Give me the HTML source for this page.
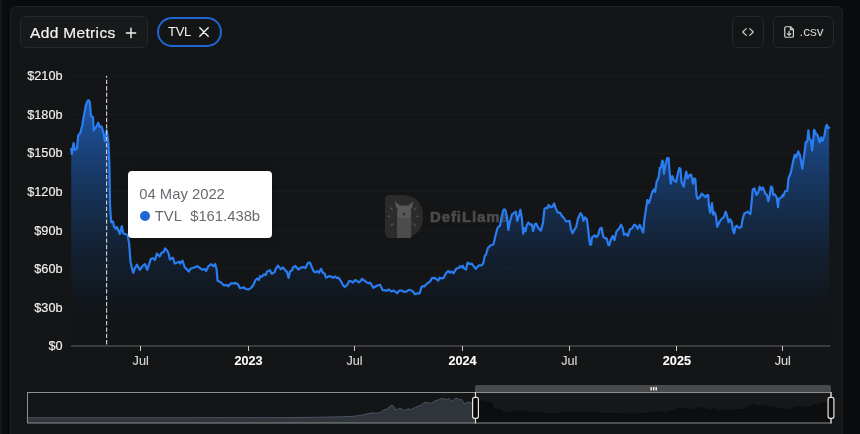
<!DOCTYPE html>
<html lang="en"><head><meta charset="utf-8"><title>TVL Chart</title>
<style>
*{box-sizing:border-box;margin:0;padding:0}
html,body{width:860px;height:434px;overflow:hidden;background:#090b0c;font-family:"Liberation Sans",Arial,sans-serif;}
#wrap{position:relative;width:860px;height:434px;overflow:hidden;background:#090b0c}
#strip{position:absolute;left:0;top:0;width:2px;height:434px;background:#141618}
#panel{position:absolute;left:10px;top:6px;width:833px;height:440px;background:#131516;border:1px solid #1e2022;border-radius:6px}
.btn{position:absolute;top:16px;height:32px;border:1px solid #26282b;border-radius:6px;color:#e8e8e8;display:flex;align-items:center}
#add{left:20px;width:128px;background:#17191b;font-size:15.5px;letter-spacing:.34px;padding-left:9px;padding-top:2px;color:#f4f4f4;-webkit-text-stroke:.2px #f4f4f4}
#add svg{position:absolute;left:104.3px;top:10px}
#tvl{position:absolute;left:157px;top:17px;width:65px;height:30px;border:2px solid #1f67d2;border-radius:15px;color:#f2f2f2;font-size:13px;line-height:26px;padding-left:9px;letter-spacing:-.3px}
#tvl svg{position:absolute;left:39.5px;top:8px}
#embed{left:732px;width:32px}
#csv{left:773px;width:61px;font-size:13.6px;color:#d4d4d4}
#csv span{position:absolute;left:25.4px;top:7.4px}
#chart{position:absolute;left:0;top:0;will-change:transform}
.btn,#tvl,#tip{will-change:transform}
#tip{position:absolute;left:127.6px;top:170.8px;width:144.3px;height:67.4px;background:#fff;border-radius:4px;color:#6a6b71;font-size:14.8px;box-shadow:1px 2px 10px rgba(0,0,0,.2)}
#tip .d{position:absolute;left:11.3px;top:14.6px;white-space:nowrap}
#tip .v{position:absolute;left:26.8px;top:36.8px;white-space:nowrap}
#tip i{position:absolute;left:11.6px;top:39.7px;width:10.6px;height:10.6px;border-radius:50%;background:#1f67d2}
</style></head><body>
<div id="wrap">
<div id="strip"></div>
<div id="panel"></div>
<svg id="chart" width="860" height="434" viewBox="0 0 860 434" font-family="Liberation Sans, Arial, sans-serif" font-size="12.7">
<defs>
<linearGradient id="ag" x1="0" y1="100" x2="0" y2="346" gradientUnits="userSpaceOnUse">
<stop offset="0" stop-color="#2577ea" stop-opacity=".7"/><stop offset=".25" stop-color="#1f64c5" stop-opacity=".525"/><stop offset=".5" stop-color="#184f9a" stop-opacity=".35"/><stop offset=".75" stop-color="#103466" stop-opacity=".175"/><stop offset="1" stop-color="#000000" stop-opacity="0"/>
</linearGradient>
<pattern id="hatch" width="3" height="3" patternUnits="userSpaceOnUse"><rect width="3" height="3" fill="#151719"/><rect width="1" height="1" fill="#18191b"/></pattern>
</defs>
<g stroke="#181a1c" stroke-width="1" shape-rendering="crispEdges"><line x1="71" x2="830" y1="76.0" y2="76.0"/><line x1="71" x2="830" y1="114.6" y2="114.6"/><line x1="71" x2="830" y1="153.1" y2="153.1"/><line x1="71" x2="830" y1="191.7" y2="191.7"/><line x1="71" x2="830" y1="230.3" y2="230.3"/><line x1="71" x2="830" y1="268.9" y2="268.9"/><line x1="71" x2="830" y1="307.4" y2="307.4"/></g>
<g id="wm" transform="translate(385,195)">
<path d="M5,0 H17 C31,0 38,9 38,21.5 C38,34 31,43 17,43 H5 C2,43 0,41 0,38 V5 C0,2 2,0 5,0 Z" fill="#2b2b2c"/>
<path d="M12,43 V17 H26.2 V43 Z" fill="#4c4c4d"/>
<path d="M12.4,12.2 Q12.4,10.4 14.2,10.4 H24.2 Q26,10.4 26,12.2 V20 Q26,23.4 19.2,23.4 Q12.4,23.4 12.4,20 Z" fill="#58585a"/>
<path d="M9.8,6 L14.8,10.6 L11.6,13.4 Z M28.6,6 L23.6,10.6 L26.8,13.4 Z" fill="#58585a"/>
<path d="M17.4,18.2 L21,18.2 L19.2,21 Z" fill="#2b2b2c"/>
<g stroke="#505051" stroke-width="1.2"><line x1="5" y1="12.5" x2="8" y2="15"/><line x1="2.5" y1="21.3" x2="5.5" y2="21.3"/><line x1="5.5" y1="31" x2="8.5" y2="28.5"/><line x1="31.5" y1="12.5" x2="28.5" y2="15"/><line x1="34" y1="21.3" x2="31" y2="21.3"/><line x1="31" y1="31" x2="28" y2="28.5"/></g>
<text x="45" y="27.2" font-size="15" font-weight="bold" fill="#4c4c4d" stroke="#4c4c4d" stroke-width=".55" letter-spacing=".9">DefiLlama</text>
</g>
<path d="M71.2,148.8 L71.8,154.0 L73.6,143.0 L74.7,150.0 L77.0,148.3 L78.2,135.5 L80.3,133.0 L82.3,125.0 L83.4,118.3 L85.8,105.5 L87.6,100.8 L88.7,100.2 L89.8,102.0 L91.0,116.0 L93.0,117.0 L93.7,130.5 L96.5,126.4 L98.3,122.7 L99.7,127.0 L101.5,126.4 L103.2,131.6 L105.0,141.3 L106.7,130.2 L108.4,142.6 L109.4,165.0 L110.0,205.0 L111.1,222.4 L112.9,221.3 L114.0,226.5 L115.8,228.8 L116.9,227.0 L118.7,231.2 L119.8,234.0 L121.8,226.0 L123.3,233.5 L127.4,234.7 L129.1,243.0 L130.5,261.7 L132.3,269.9 L133.4,272.8 L134.6,268.7 L136.9,264.7 L139.8,269.9 L142.7,265.8 L145.1,264.1 L147.2,269.9 L150.9,258.8 L153.2,258.3 L155.0,260.0 L156.9,253.6 L159.6,256.5 L161.9,252.4 L163.4,252.4 L165.1,248.4 L167.2,250.7 L168.9,254.2 L169.7,259.4 L173.0,257.7 L174.7,263.5 L179.4,261.7 L180.2,263.5 L182.5,260.6 L184.6,267.0 L188.7,271.6 L190.4,268.7 L193.3,267.8 L197.4,266.2 L202.0,269.7 L204.4,269.0 L206.1,271.0 L208.3,266.3 L211.2,264.2 L213.2,266.3 L215.1,264.0 L216.5,268.6 L217.6,280.8 L220.5,282.0 L224.0,285.5 L226.3,284.9 L228.3,286.3 L230.4,283.7 L236.2,283.1 L238.0,284.3 L239.7,287.8 L241.5,288.1 L243.2,287.2 L246.1,289.0 L248.4,289.5 L250.8,288.1 L253.1,285.5 L255.4,280.2 L257.2,278.5 L258.9,280.0 L260.1,276.2 L261.8,276.7 L264.1,274.4 L265.9,275.0 L267.0,271.5 L270.0,270.3 L271.7,273.8 L274.6,272.1 L275.8,268.6 L277.9,265.7 L281.0,269.2 L283.0,267.4 L285.1,270.3 L286.8,271.5 L288.6,277.9 L290.0,271.5 L292.0,270.3 L293.0,267.4 L295.3,266.0 L298.3,269.5 L300.7,267.7 L303.6,267.2 L305.3,268.0 L308.2,262.6 L310.0,262.6 L313.4,270.9 L315.2,272.3 L317.5,271.2 L319.0,272.7 L321.0,268.8 L323.0,273.0 L324.5,273.3 L326.0,277.7 L329.1,276.2 L331.5,276.7 L333.0,277.9 L335.0,276.5 L336.7,277.9 L338.4,277.7 L340.8,280.8 L343.1,285.5 L344.8,287.0 L347.2,284.9 L349.3,280.8 L351.2,281.4 L353.0,282.6 L355.3,280.0 L358.8,282.3 L360.5,281.2 L362.0,278.8 L365.8,281.6 L368.1,283.1 L370.4,282.8 L373.3,287.8 L377.4,285.5 L380.0,284.7 L382.6,290.1 L387.3,290.7 L388.9,289.5 L391.2,291.3 L394.1,290.7 L397.0,293.3 L399.4,290.5 L401.7,290.5 L403.4,291.6 L405.8,291.9 L408.7,289.8 L412.2,290.7 L415.1,294.2 L417.4,293.3 L419.5,293.3 L421.5,287.0 L423.2,286.0 L424.4,286.6 L426.1,284.3 L428.4,282.6 L430.2,281.4 L431.9,278.1 L434.8,277.9 L436.6,279.3 L438.3,280.5 L439.7,277.7 L441.8,278.5 L443.6,277.9 L445.9,273.3 L448.2,270.9 L450.0,272.7 L451.7,271.5 L453.4,273.3 L456.3,268.6 L458.7,268.0 L459.8,266.3 L461.6,267.4 L462.7,265.7 L464.1,268.6 L466.0,269.5 L467.6,262.6 L469.7,264.0 L471.8,263.7 L473.8,266.3 L475.8,268.8 L479.0,265.3 L481.9,265.1 L483.4,262.8 L484.8,255.8 L486.0,254.7 L487.9,248.0 L490.7,245.2 L493.4,244.5 L495.5,235.5 L497.6,227.8 L500.0,225.7 L501.8,215.9 L503.6,209.7 L505.3,209.7 L507.0,217.3 L508.4,229.9 L509.8,222.2 L512.0,214.5 L514.0,212.9 L515.8,211.7 L517.2,220.8 L519.3,214.5 L520.4,209.7 L521.8,218.0 L523.2,233.8 L524.6,228.2 L525.5,231.3 L526.9,225.0 L528.3,222.6 L530.1,224.6 L531.8,224.3 L533.2,231.0 L534.9,224.3 L536.3,223.6 L538.1,227.8 L540.9,230.6 L543.0,222.9 L544.4,209.0 L545.8,207.8 L547.4,208.3 L548.6,205.0 L550.6,207.3 L552.5,206.4 L554.1,203.4 L555.5,207.6 L557.6,212.4 L560.4,213.1 L561.8,215.9 L563.9,218.0 L566.0,221.5 L569.5,220.8 L570.9,229.2 L572.6,233.4 L574.4,229.6 L576.2,227.1 L577.9,218.7 L580.6,213.1 L582.3,215.9 L583.4,220.8 L584.8,217.3 L586.9,219.4 L588.2,229.9 L589.3,240.0 L590.2,244.8 L591.2,244.2 L592.0,237.4 L594.7,235.5 L596.5,237.2 L598.2,234.9 L600.0,228.5 L601.7,227.9 L603.2,236.6 L605.2,238.4 L606.7,238.4 L608.3,244.8 L609.3,245.3 L610.7,240.1 L612.7,236.0 L614.5,240.1 L616.5,231.4 L619.1,228.5 L621.1,224.7 L622.6,227.9 L624.1,234.9 L626.1,233.7 L627.9,235.8 L630.0,229.1 L631.9,228.5 L634.3,224.7 L636.0,225.6 L637.7,228.8 L639.7,225.0 L641.6,229.1 L643.2,232.6 L644.4,219.8 L645.9,209.3 L647.4,200.0 L649.0,203.0 L650.5,198.0 L652.3,191.9 L654.0,189.5 L655.2,191.9 L656.7,181.4 L658.7,177.3 L659.8,168.0 L661.0,167.4 L662.2,160.7 L663.0,161.6 L663.9,173.8 L665.7,164.0 L667.2,158.1 L668.6,158.1 L669.7,173.3 L670.7,183.7 L672.3,176.2 L673.8,180.2 L676.1,182.0 L677.9,173.3 L679.3,168.0 L680.4,168.6 L681.6,182.6 L683.7,186.6 L684.8,179.1 L686.2,171.5 L687.7,178.5 L689.3,175.0 L691.2,174.7 L693.0,183.7 L694.1,178.5 L695.3,179.1 L696.5,195.3 L697.6,198.8 L699.4,197.7 L701.7,193.6 L704.0,195.9 L705.5,197.2 L706.9,195.0 L708.2,195.2 L708.8,204.8 L710.2,212.9 L712.0,203.0 L713.2,214.7 L714.6,212.3 L716.0,216.4 L717.2,226.9 L719.3,222.2 L721.3,219.3 L723.9,217.0 L725.7,211.7 L727.2,216.4 L728.6,222.2 L730.0,219.3 L731.8,222.2 L733.0,230.3 L734.1,233.3 L735.5,226.9 L736.7,225.7 L739.0,228.0 L741.3,226.9 L742.5,219.9 L744.3,213.5 L747.7,211.7 L750.4,214.1 L751.6,202.4 L752.7,189.7 L754.4,188.5 L756.5,194.9 L758.2,192.6 L759.7,186.7 L761.3,189.7 L762.9,187.3 L765.2,193.7 L766.9,194.9 L768.3,201.3 L769.5,196.6 L771.0,186.7 L772.2,187.3 L773.3,194.9 L774.8,194.3 L776.8,197.8 L778.0,207.1 L778.8,199.0 L781.5,197.2 L782.6,194.9 L783.4,196.0 L785.0,191.4 L787.3,190.8 L788.5,178.4 L790.8,172.7 L793.7,158.8 L794.8,154.8 L796.2,157.1 L798.3,151.3 L800.0,155.4 L801.2,162.3 L802.3,168.6 L803.5,160.0 L804.6,152.0 L805.8,142.0 L807.2,142.0 L808.4,130.3 L809.5,139.2 L810.9,140.1 L812.1,150.3 L813.2,141.0 L814.0,129.9 L815.1,131.3 L816.0,134.5 L817.4,134.5 L818.8,140.1 L819.7,142.4 L821.1,137.3 L822.5,141.0 L824.4,135.5 L825.8,127.1 L826.7,124.8 L828.1,128.0 L829.2,127.6 L829.2,346 L71.2,346 Z" fill="url(#ag)"/>
<path d="M71.2,148.8 L71.8,154.0 L73.6,143.0 L74.7,150.0 L77.0,148.3 L78.2,135.5 L80.3,133.0 L82.3,125.0 L83.4,118.3 L85.8,105.5 L87.6,100.8 L88.7,100.2 L89.8,102.0 L91.0,116.0 L93.0,117.0 L93.7,130.5 L96.5,126.4 L98.3,122.7 L99.7,127.0 L101.5,126.4 L103.2,131.6 L105.0,141.3 L106.7,130.2 L108.4,142.6 L109.4,165.0 L110.0,205.0 L111.1,222.4 L112.9,221.3 L114.0,226.5 L115.8,228.8 L116.9,227.0 L118.7,231.2 L119.8,234.0 L121.8,226.0 L123.3,233.5 L127.4,234.7 L129.1,243.0 L130.5,261.7 L132.3,269.9 L133.4,272.8 L134.6,268.7 L136.9,264.7 L139.8,269.9 L142.7,265.8 L145.1,264.1 L147.2,269.9 L150.9,258.8 L153.2,258.3 L155.0,260.0 L156.9,253.6 L159.6,256.5 L161.9,252.4 L163.4,252.4 L165.1,248.4 L167.2,250.7 L168.9,254.2 L169.7,259.4 L173.0,257.7 L174.7,263.5 L179.4,261.7 L180.2,263.5 L182.5,260.6 L184.6,267.0 L188.7,271.6 L190.4,268.7 L193.3,267.8 L197.4,266.2 L202.0,269.7 L204.4,269.0 L206.1,271.0 L208.3,266.3 L211.2,264.2 L213.2,266.3 L215.1,264.0 L216.5,268.6 L217.6,280.8 L220.5,282.0 L224.0,285.5 L226.3,284.9 L228.3,286.3 L230.4,283.7 L236.2,283.1 L238.0,284.3 L239.7,287.8 L241.5,288.1 L243.2,287.2 L246.1,289.0 L248.4,289.5 L250.8,288.1 L253.1,285.5 L255.4,280.2 L257.2,278.5 L258.9,280.0 L260.1,276.2 L261.8,276.7 L264.1,274.4 L265.9,275.0 L267.0,271.5 L270.0,270.3 L271.7,273.8 L274.6,272.1 L275.8,268.6 L277.9,265.7 L281.0,269.2 L283.0,267.4 L285.1,270.3 L286.8,271.5 L288.6,277.9 L290.0,271.5 L292.0,270.3 L293.0,267.4 L295.3,266.0 L298.3,269.5 L300.7,267.7 L303.6,267.2 L305.3,268.0 L308.2,262.6 L310.0,262.6 L313.4,270.9 L315.2,272.3 L317.5,271.2 L319.0,272.7 L321.0,268.8 L323.0,273.0 L324.5,273.3 L326.0,277.7 L329.1,276.2 L331.5,276.7 L333.0,277.9 L335.0,276.5 L336.7,277.9 L338.4,277.7 L340.8,280.8 L343.1,285.5 L344.8,287.0 L347.2,284.9 L349.3,280.8 L351.2,281.4 L353.0,282.6 L355.3,280.0 L358.8,282.3 L360.5,281.2 L362.0,278.8 L365.8,281.6 L368.1,283.1 L370.4,282.8 L373.3,287.8 L377.4,285.5 L380.0,284.7 L382.6,290.1 L387.3,290.7 L388.9,289.5 L391.2,291.3 L394.1,290.7 L397.0,293.3 L399.4,290.5 L401.7,290.5 L403.4,291.6 L405.8,291.9 L408.7,289.8 L412.2,290.7 L415.1,294.2 L417.4,293.3 L419.5,293.3 L421.5,287.0 L423.2,286.0 L424.4,286.6 L426.1,284.3 L428.4,282.6 L430.2,281.4 L431.9,278.1 L434.8,277.9 L436.6,279.3 L438.3,280.5 L439.7,277.7 L441.8,278.5 L443.6,277.9 L445.9,273.3 L448.2,270.9 L450.0,272.7 L451.7,271.5 L453.4,273.3 L456.3,268.6 L458.7,268.0 L459.8,266.3 L461.6,267.4 L462.7,265.7 L464.1,268.6 L466.0,269.5 L467.6,262.6 L469.7,264.0 L471.8,263.7 L473.8,266.3 L475.8,268.8 L479.0,265.3 L481.9,265.1 L483.4,262.8 L484.8,255.8 L486.0,254.7 L487.9,248.0 L490.7,245.2 L493.4,244.5 L495.5,235.5 L497.6,227.8 L500.0,225.7 L501.8,215.9 L503.6,209.7 L505.3,209.7 L507.0,217.3 L508.4,229.9 L509.8,222.2 L512.0,214.5 L514.0,212.9 L515.8,211.7 L517.2,220.8 L519.3,214.5 L520.4,209.7 L521.8,218.0 L523.2,233.8 L524.6,228.2 L525.5,231.3 L526.9,225.0 L528.3,222.6 L530.1,224.6 L531.8,224.3 L533.2,231.0 L534.9,224.3 L536.3,223.6 L538.1,227.8 L540.9,230.6 L543.0,222.9 L544.4,209.0 L545.8,207.8 L547.4,208.3 L548.6,205.0 L550.6,207.3 L552.5,206.4 L554.1,203.4 L555.5,207.6 L557.6,212.4 L560.4,213.1 L561.8,215.9 L563.9,218.0 L566.0,221.5 L569.5,220.8 L570.9,229.2 L572.6,233.4 L574.4,229.6 L576.2,227.1 L577.9,218.7 L580.6,213.1 L582.3,215.9 L583.4,220.8 L584.8,217.3 L586.9,219.4 L588.2,229.9 L589.3,240.0 L590.2,244.8 L591.2,244.2 L592.0,237.4 L594.7,235.5 L596.5,237.2 L598.2,234.9 L600.0,228.5 L601.7,227.9 L603.2,236.6 L605.2,238.4 L606.7,238.4 L608.3,244.8 L609.3,245.3 L610.7,240.1 L612.7,236.0 L614.5,240.1 L616.5,231.4 L619.1,228.5 L621.1,224.7 L622.6,227.9 L624.1,234.9 L626.1,233.7 L627.9,235.8 L630.0,229.1 L631.9,228.5 L634.3,224.7 L636.0,225.6 L637.7,228.8 L639.7,225.0 L641.6,229.1 L643.2,232.6 L644.4,219.8 L645.9,209.3 L647.4,200.0 L649.0,203.0 L650.5,198.0 L652.3,191.9 L654.0,189.5 L655.2,191.9 L656.7,181.4 L658.7,177.3 L659.8,168.0 L661.0,167.4 L662.2,160.7 L663.0,161.6 L663.9,173.8 L665.7,164.0 L667.2,158.1 L668.6,158.1 L669.7,173.3 L670.7,183.7 L672.3,176.2 L673.8,180.2 L676.1,182.0 L677.9,173.3 L679.3,168.0 L680.4,168.6 L681.6,182.6 L683.7,186.6 L684.8,179.1 L686.2,171.5 L687.7,178.5 L689.3,175.0 L691.2,174.7 L693.0,183.7 L694.1,178.5 L695.3,179.1 L696.5,195.3 L697.6,198.8 L699.4,197.7 L701.7,193.6 L704.0,195.9 L705.5,197.2 L706.9,195.0 L708.2,195.2 L708.8,204.8 L710.2,212.9 L712.0,203.0 L713.2,214.7 L714.6,212.3 L716.0,216.4 L717.2,226.9 L719.3,222.2 L721.3,219.3 L723.9,217.0 L725.7,211.7 L727.2,216.4 L728.6,222.2 L730.0,219.3 L731.8,222.2 L733.0,230.3 L734.1,233.3 L735.5,226.9 L736.7,225.7 L739.0,228.0 L741.3,226.9 L742.5,219.9 L744.3,213.5 L747.7,211.7 L750.4,214.1 L751.6,202.4 L752.7,189.7 L754.4,188.5 L756.5,194.9 L758.2,192.6 L759.7,186.7 L761.3,189.7 L762.9,187.3 L765.2,193.7 L766.9,194.9 L768.3,201.3 L769.5,196.6 L771.0,186.7 L772.2,187.3 L773.3,194.9 L774.8,194.3 L776.8,197.8 L778.0,207.1 L778.8,199.0 L781.5,197.2 L782.6,194.9 L783.4,196.0 L785.0,191.4 L787.3,190.8 L788.5,178.4 L790.8,172.7 L793.7,158.8 L794.8,154.8 L796.2,157.1 L798.3,151.3 L800.0,155.4 L801.2,162.3 L802.3,168.6 L803.5,160.0 L804.6,152.0 L805.8,142.0 L807.2,142.0 L808.4,130.3 L809.5,139.2 L810.9,140.1 L812.1,150.3 L813.2,141.0 L814.0,129.9 L815.1,131.3 L816.0,134.5 L817.4,134.5 L818.8,140.1 L819.7,142.4 L821.1,137.3 L822.5,141.0 L824.4,135.5 L825.8,127.1 L826.7,124.8 L828.1,128.0 L829.2,127.6" fill="none" stroke="#2a7df1" stroke-width="2.2" stroke-linejoin="round" stroke-linecap="round"/>
<line x1="106.6" x2="106.6" y1="75.7" y2="346" stroke="#cdcdcd" stroke-width="1.15" stroke-dasharray="4.3 2.05" stroke-dashoffset="2.3"/>
<g stroke="#606265" stroke-width="1.2"><line x1="71" x2="830" y1="346" y2="346"/></g>
<g stroke="#c8c8c8" stroke-width="1" shape-rendering="crispEdges"><line x1="140.7" x2="140.7" y1="346" y2="351"/><line x1="248.5" x2="248.5" y1="346" y2="351"/><line x1="354.5" x2="354.5" y1="346" y2="351"/><line x1="462.5" x2="462.5" y1="346" y2="351"/><line x1="569.3" x2="569.3" y1="346" y2="351"/><line x1="676.9" x2="676.9" y1="346" y2="351"/><line x1="782.8" x2="782.8" y1="346" y2="351"/></g>
<g fill="#ededed" stroke="#ededed" stroke-width=".18"><text x="62.5" y="80.3" text-anchor="end">$210b</text><text x="62.5" y="118.9" text-anchor="end">$180b</text><text x="62.5" y="157.4" text-anchor="end">$150b</text><text x="62.5" y="196.0" text-anchor="end">$120b</text><text x="62.5" y="234.6" text-anchor="end">$90b</text><text x="62.5" y="273.2" text-anchor="end">$60b</text><text x="62.5" y="311.7" text-anchor="end">$30b</text><text x="62.5" y="350.3" text-anchor="end">$0</text></g>
<g fill="#d6d6d6" stroke="#d6d6d6" stroke-width=".15"><text x="140.7" y="365" text-anchor="middle">Jul</text><text x="248.5" y="365" text-anchor="middle" font-weight="bold" fill="#ffffff">2023</text><text x="354.5" y="365" text-anchor="middle">Jul</text><text x="462.5" y="365" text-anchor="middle" font-weight="bold" fill="#ffffff">2024</text><text x="569.3" y="365" text-anchor="middle">Jul</text><text x="676.9" y="365" text-anchor="middle" font-weight="bold" fill="#ffffff">2025</text><text x="782.8" y="365" text-anchor="middle">Jul</text></g>
<!-- slider -->
<rect x="475" y="392" width="356" height="31" fill="url(#hatch)"/>
<path d="M27.0,417.8 L290.0,417.6 L320.0,417.2 L340.0,416.8 L355.0,416.2 L360.0,415.3 L364.0,414.8 L368.0,413.6 L372.0,412.9 L376.0,413.2 L380.0,412.9 L383.5,410.0 L387.0,408.8 L390.5,405.9 L392.8,405.3 L395.7,410.0 L399.2,408.5 L401.5,408.8 L404.4,410.6 L407.9,408.8 L411.4,409.4 L416.0,407.1 L421.3,404.8 L424.8,402.2 L427.7,402.4 L430.6,403.6 L434.1,401.3 L439.3,399.5 L442.8,398.4 L446.3,399.5 L449.2,398.7 L452.1,401.3 L455.6,398.1 L457.9,398.7 L459.7,399.9 L461.4,399.2 L464.3,403.6 L468.4,401.9 L471.9,403.0 L475.0,402.5 L475,423 L27,423 Z" fill="#30343b"/>
<path d="M27.0,417.8 L290.0,417.6 L320.0,417.2 L340.0,416.8 L355.0,416.2 L360.0,415.3 L364.0,414.8 L368.0,413.6 L372.0,412.9 L376.0,413.2 L380.0,412.9 L383.5,410.0 L387.0,408.8 L390.5,405.9 L392.8,405.3 L395.7,410.0 L399.2,408.5 L401.5,408.8 L404.4,410.6 L407.9,408.8 L411.4,409.4 L416.0,407.1 L421.3,404.8 L424.8,402.2 L427.7,402.4 L430.6,403.6 L434.1,401.3 L439.3,399.5 L442.8,398.4 L446.3,399.5 L449.2,398.7 L452.1,401.3 L455.6,398.1 L457.9,398.7 L459.7,399.9 L461.4,399.2 L464.3,403.6 L468.4,401.9 L471.9,403.0 L475.0,402.5" fill="none" stroke="#4b5263" stroke-width="1"/>
<path d="M475.0,403.2 L475.3,403.6 L476.6,403.3 L478.3,402.3 L480.2,401.5 L481.9,400.1 L483.2,399.7 L484.3,400.9 L485.6,401.9 L487.7,401.4 L489.2,401.6 L490.9,402.7 L492.5,402.8 L493.2,407.3 L494.6,408.4 L495.9,409.0 L497.3,409.2 L498.8,408.8 L501.4,409.4 L502.9,411.3 L504.2,412.1 L505.9,411.6 L508.6,411.6 L510.7,411.9 L513.5,411.1 L515.2,410.8 L517.6,410.7 L519.1,410.4 L520.9,410.8 L522.8,411.1 L525.8,411.3 L527.3,411.3 L530.2,412.1 L532.3,411.8 L536.4,411.9 L538.4,412.0 L540.8,411.5 L542.6,411.5 L543.8,412.7 L546.8,413.1 L548.8,413.1 L552.5,412.9 L554.1,413.2 L555.8,413.2 L558.2,413.3 L560.4,413.1 L562.4,412.5 L563.7,412.4 L565.6,412.3 L567.0,412.0 L569.2,412.2 L571.1,411.8 L573.5,411.9 L575.5,412.0 L577.1,412.5 L578.7,412.0 L580.3,411.7 L582.8,411.8 L584.9,411.8 L587.2,411.4 L589.6,412.1 L591.4,412.1 L593.3,412.2 L594.7,412.5 L597.3,412.4 L598.9,412.4 L600.5,412.5 L602.7,413.1 L604.6,413.0 L606.5,412.8 L608.4,412.7 L610.9,412.7 L613.4,412.8 L615.5,412.9 L618.8,413.1 L621.3,413.4 L624.2,413.3 L626.7,413.4 L629.1,413.4 L631.0,413.5 L633.5,413.4 L636.5,413.7 L638.6,413.6 L640.3,413.1 L641.7,413.0 L643.6,412.8 L645.8,412.5 L647.4,412.7 L649.1,412.5 L651.0,412.2 L652.9,412.1 L654.5,412.2 L657.0,411.8 L658.4,411.8 L659.5,411.8 L661.2,411.4 L663.1,411.5 L665.0,411.9 L667.9,411.6 L669.3,410.9 L670.7,410.4 L673.3,410.1 L675.3,408.9 L677.2,408.1 L678.9,407.6 L680.3,409.1 L682.0,408.0 L683.8,407.8 L685.5,408.0 L686.6,408.2 L687.9,408.9 L689.0,408.7 L690.5,408.7 L692.0,409.1 L693.4,408.6 L695.6,409.1 L697.2,407.6 L698.7,407.5 L700.2,407.4 L701.8,407.2 L703.4,407.8 L705.4,408.1 L707.4,408.5 L709.7,409.0 L711.3,409.0 L713.0,408.3 L715.0,408.1 L716.2,408.2 L717.8,409.1 L718.8,410.1 L719.6,409.6 L721.7,409.6 L723.4,409.0 L724.9,409.5 L726.5,409.7 L727.7,410.2 L729.3,409.5 L731.1,409.2 L733.3,408.7 L734.7,409.4 L736.5,409.5 L738.3,409.0 L740.3,408.7 L742.0,408.7 L743.6,409.3 L744.9,407.6 L746.4,407.1 L747.9,406.3 L749.3,406.3 L750.9,405.3 L752.0,404.6 L752.9,404.2 L754.2,404.3 L755.6,403.9 L756.6,405.7 L758.0,405.5 L759.9,405.0 L761.1,404.7 L762.7,405.9 L763.8,404.9 L765.3,405.1 L767.0,405.7 L768.1,405.4 L769.2,406.8 L771.1,406.4 L772.9,406.7 L774.2,406.6 L775.1,407.8 L776.5,408.0 L777.8,408.1 L779.4,408.5 L781.5,408.1 L783.1,408.1 L784.4,408.3 L785.8,409.1 L787.0,408.8 L788.6,408.9 L790.3,408.3 L792.7,407.8 L794.6,407.1 L795.9,406.1 L797.7,406.4 L799.1,406.2 L800.9,406.5 L802.4,407.0 L803.7,406.0 L804.7,406.5 L806.4,406.8 L807.3,406.8 L809.1,406.5 L810.2,406.3 L811.9,405.4 L814.3,403.9 L815.5,403.8 L817.3,403.7 L818.4,404.7 L819.4,403.5 L820.7,402.7 L821.7,402.5 L823.0,403.3 L823.9,401.9 L824.8,402.2 L826.1,402.6 L827.2,402.4 L828.7,402.3 L829.8,401.5 L831.0,401.7 L831,423 L475,423 Z" fill="#0c0d0e"/>
<path d="M477,385 H829 Q831,385 831,387 V392 H475 V387 Q475,385 477,385 Z" fill="#48494b"/>
<g fill="#f5f5f5"><rect x="650.5" y="387" width="1.4" height="3.4"/><rect x="653" y="387" width="1.4" height="3.4"/><rect x="655.5" y="387" width="1.4" height="3.4"/></g>
<rect x="27.5" y="392.5" width="803.5" height="30.5" fill="none" stroke="#8d8e90" stroke-width="1"/>
<g stroke="#d8d8d8" stroke-width="1.2"><line x1="475.5" x2="475.5" y1="392" y2="423.5"/><line x1="831" x2="831" y1="392" y2="423.5"/></g>
<g fill="#0a0a0a" stroke="#e6e6e6" stroke-width="1.2"><rect x="472.6" y="397.3" width="5.8" height="21" rx="2"/><rect x="828.1" y="397.3" width="5.8" height="21" rx="2"/></g>
</svg>
<div class="btn" id="add">Add Metrics<svg width="12" height="12" viewBox="0 0 12 12" fill="none" stroke="#f2f2f2" stroke-width="1.4"><path d="M6 .8V11.2M.8 6H11.2"/></svg></div>
<div id="tvl">TVL<svg width="10" height="10" viewBox="0 0 10 10" fill="none" stroke="#f2f2f2" stroke-width="1.4" stroke-linecap="round"><path d="M.8 .8L9.2 9.2M9.2 .8L.8 9.2"/></svg></div>
<div class="btn" id="embed"><svg style="position:absolute;left:7.7px;top:10.2px" width="14" height="10" viewBox="0 0 14 10" fill="none" stroke="#c4c4c4" stroke-width="1.3" stroke-linecap="round" stroke-linejoin="round"><path d="M5.3 1.6L1.7 5L5.3 8.4M8.7 1.6L12.3 5L8.7 8.4"/></svg></div>
<div class="btn" id="csv"><svg style="position:absolute;left:9.7px;top:9.2px" width="10.2" height="12" viewBox="0 0 11 13" fill="none" stroke="#d4d4d4" stroke-width="1.3" stroke-linecap="round" stroke-linejoin="round"><path d="M7 .8H2.2C1.4.8.8 1.4.8 2.2V10.8C.8 11.6 1.4 12.2 2.2 12.2H8.8C9.6 12.2 10.2 11.6 10.2 10.8V4Z"/><path d="M7 .8V4H10.2"/><path d="M5.5 5.5V10M3.6 8.2L5.5 10L7.4 8.2"/></svg><span>.csv</span></div>
<div id="tip"><div class="d">04 May 2022</div><i></i><div class="v">TVL&nbsp; $161.438b</div></div>
</div>
</body></html>
